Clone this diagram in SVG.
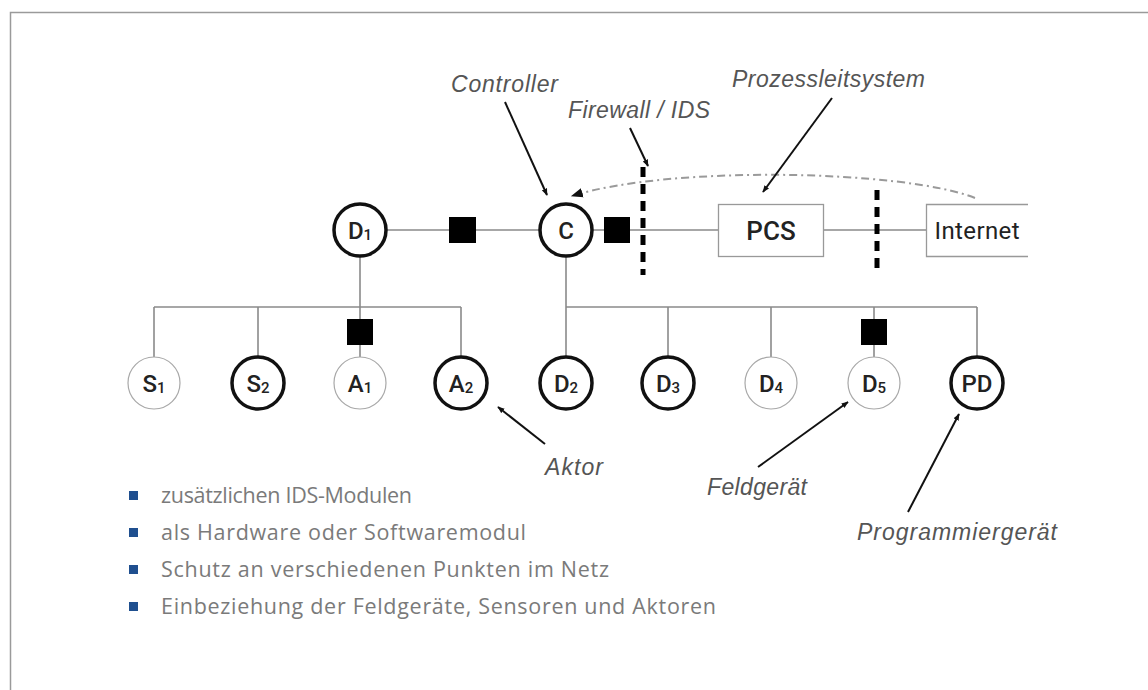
<svg xmlns="http://www.w3.org/2000/svg" width="1148" height="690" viewBox="0 0 1148 690">
<defs>
<style>
.wire{stroke:#8a8a8a;stroke-width:1.6;fill:none}
.thick{fill:#fff;stroke:#111;stroke-width:3.5}
.thin{fill:#fff;stroke:#a8a8a8;stroke-width:1.2}
.nl{font-family:Roboto,"Liberation Sans",Arial,sans-serif;font-weight:500;font-size:24px;fill:#222;text-anchor:middle}
.sub{font-size:15px}
.ids{fill:#000}
.fw{stroke:#000;stroke-width:5;stroke-dasharray:10 7}
.lab{font-family:"Liberation Sans",Arial,sans-serif;font-style:italic;font-size:23px;fill:#555}
.ptr{stroke:#111;stroke-width:2;fill:none;marker-end:url(#ah)}
.bt{font-family:"Open Sans","Liberation Sans",sans-serif;font-size:21.5px;fill:#7a7a7a}
.bl{fill:#1f4f8f}
</style>
<marker id="ah" viewBox="0 0 10 10" refX="9" refY="5" markerWidth="7" markerHeight="7" markerUnits="userSpaceOnUse" orient="auto"><path d="M0,1 L10,5 L0,9 z" fill="#111"/></marker>
<marker id="ah2" viewBox="0 0 10 10" refX="9" refY="5" markerWidth="12" markerHeight="12" markerUnits="userSpaceOnUse" orient="auto"><path d="M0,1 L10,5 L0,9 z" fill="#111"/></marker>
</defs>
<rect width="1148" height="690" fill="#fff"/>
<path d="M10.5,690 V12.5 H1148" fill="none" stroke="#9a9a9a" stroke-width="1.5"/>

<g id="connectors">
<path class="wire" d="M360,230 H926"/>
<path class="wire" d="M360,256 V307 M154,307 H461 M154,307 V357 M258,307 V357 M360,307 V357 M461,307 V357"/>
<path class="wire" d="M566,256 V307 H977 M668,307 V357 M771,307 V357 M874,307 V357 M977,307 V357 M566,307 V357"/>
<path d="M975,198 C905,170 670,165 572,196" fill="none" stroke="#9a9a9a" stroke-width="2" stroke-dasharray="8 4 2 4" marker-end="url(#ah2)"/>
<line class="fw" x1="643" y1="167" x2="643" y2="275"/>
<line class="fw" x1="877" y1="190" x2="877" y2="275"/>
<line class="ptr" x1="505" y1="102" x2="547" y2="195"/>
<line class="ptr" x1="630" y1="128" x2="648" y2="166"/>
<line class="ptr" x1="832" y1="98" x2="763" y2="192"/>
<line class="ptr" x1="545" y1="444" x2="498" y2="407"/>
<line class="ptr" x1="758" y1="467" x2="848" y2="402"/>
<line class="ptr" x1="908" y1="512" x2="959" y2="414"/>
</g>

<g id="ids-marks">
<rect class="ids" x="449" y="217" width="27" height="26"/>
<rect class="ids" x="604" y="217" width="26" height="26"/>
<rect class="ids" x="347" y="319" width="26" height="26"/>
<rect class="ids" x="861" y="319" width="26" height="26"/>
</g>

<g id="node-D1"><circle class="thick" cx="360" cy="230" r="26"/><text class="nl" x="360" y="238.5">D<tspan class="sub" dy="1">1</tspan></text></g>
<g id="node-C"><circle class="thick" cx="566" cy="230" r="26"/><text class="nl" x="566" y="238.5">C</text></g>
<g id="node-PCS"><rect x="718.5" y="204.5" width="105" height="52" fill="#fff" stroke="#999" stroke-width="1.3"/><text class="nl" x="771" y="239.5" style="font-size:26px">PCS</text></g>
<g id="node-Internet"><path d="M1028,204.5 H926.5 V256.5 H1028" fill="#fff" stroke="#999" stroke-width="1.3"/><text class="nl" x="977" y="239" style="font-weight:400;font-size:24px" textLength="85">Internet</text></g>

<g id="node-S1"><circle class="thin" cx="154" cy="383" r="26"/><text class="nl" x="154" y="391.5">S<tspan class="sub" dy="1">1</tspan></text></g>
<g id="node-S2"><circle class="thick" cx="258" cy="383" r="26"/><text class="nl" x="258" y="391.5">S<tspan class="sub" dy="1">2</tspan></text></g>
<g id="node-A1"><circle class="thin" cx="360" cy="383" r="26"/><text class="nl" x="360" y="391.5">A<tspan class="sub" dy="1">1</tspan></text></g>
<g id="node-A2"><circle class="thick" cx="461" cy="383" r="26"/><text class="nl" x="461" y="391.5">A<tspan class="sub" dy="1">2</tspan></text></g>
<g id="node-D2"><circle class="thick" cx="566" cy="383" r="26"/><text class="nl" x="566" y="391.5">D<tspan class="sub" dy="1">2</tspan></text></g>
<g id="node-D3"><circle class="thick" cx="668" cy="383" r="26"/><text class="nl" x="668" y="391.5">D<tspan class="sub" dy="1">3</tspan></text></g>
<g id="node-D4"><circle class="thin" cx="771" cy="383" r="26"/><text class="nl" x="771" y="391.5">D<tspan class="sub" dy="1">4</tspan></text></g>
<g id="node-D5"><circle class="thin" cx="874" cy="383" r="26"/><text class="nl" x="874" y="391.5">D<tspan class="sub" dy="1">5</tspan></text></g>
<g id="node-PD"><circle class="thick" cx="977" cy="383" r="26"/><text class="nl" x="977" y="391.5">PD</text></g>

<g id="labels">
<text class="lab" x="451" y="92" textLength="107">Controller</text>
<text class="lab" x="568" y="118" textLength="142">Firewall / IDS</text>
<text class="lab" x="732" y="87" textLength="193">Prozessleitsystem</text>
<text class="lab" x="545" y="475" textLength="58">Aktor</text>
<text class="lab" x="707" y="495" textLength="100">Feldgerät</text>
<text class="lab" x="857" y="540" textLength="200">Programmiergerät</text>
</g>

<g id="bullets">
<rect class="bl" x="129" y="491" width="9" height="9"/>
<rect class="bl" x="129" y="528" width="9" height="9"/>
<rect class="bl" x="129" y="565" width="9" height="9"/>
<rect class="bl" x="129" y="602" width="9" height="9"/>
<text class="bt" x="161" y="503" textLength="251">zusätzlichen IDS-Modulen</text>
<text class="bt" x="161" y="540" textLength="365">als Hardware oder Softwaremodul</text>
<text class="bt" x="161" y="577" textLength="448">Schutz an verschiedenen Punkten im Netz</text>
<text class="bt" x="161" y="614" textLength="555">Einbeziehung der Feldgeräte, Sensoren und Aktoren</text>
</g>
</svg>
